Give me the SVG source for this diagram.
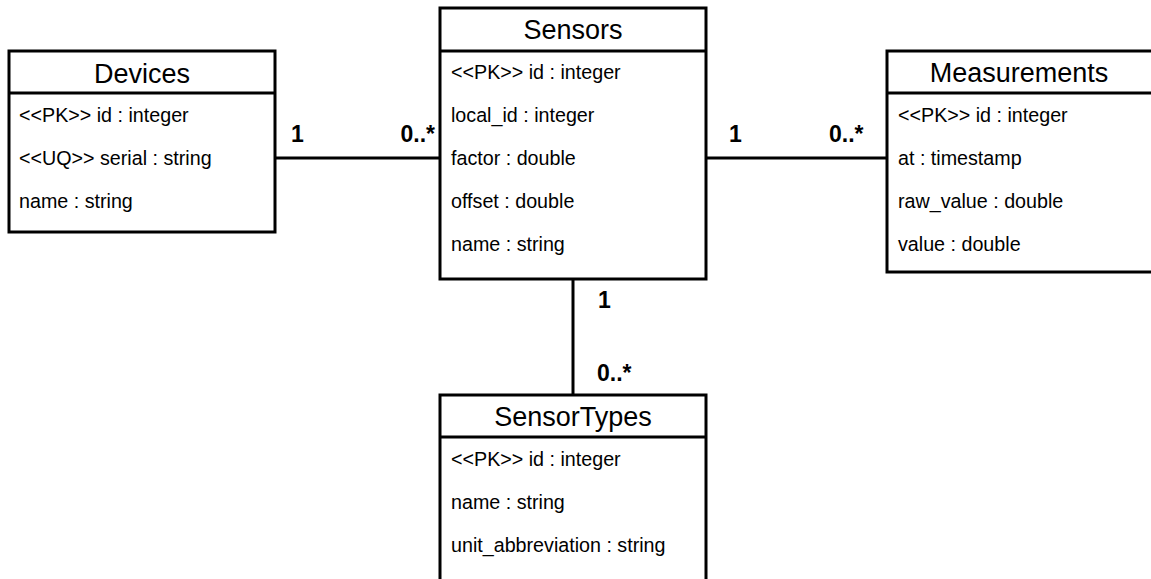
<svg xmlns="http://www.w3.org/2000/svg" width="1151" height="579" viewBox="0 0 1151 579">
<style>
.box{fill:#fff;stroke:#000;stroke-width:3}
.sep{stroke:#000;stroke-width:3}
.title{font-family:"Liberation Sans",Arial,sans-serif;font-size:27px;text-anchor:middle;fill:#000}
.attr{font-family:"Liberation Sans",Arial,sans-serif;font-size:19.7px;fill:#000}
.mult{font-family:"Liberation Sans",Arial,sans-serif;font-size:23px;font-weight:bold;fill:#000}
.conn{stroke:#000;stroke-width:3;fill:none}
</style>
<rect width="1151" height="579" fill="#fff"/>
<g id="connectors">
<line class="conn" x1="275" y1="158" x2="440" y2="158"/>
<line class="conn" x1="706" y1="158" x2="887" y2="158"/>
<line class="conn" x1="573" y1="279" x2="573" y2="395"/>
<text class="mult" x="291" y="142">1</text>
<text class="mult" x="435" y="142" text-anchor="end">0..*</text>
<text class="mult" x="729" y="142">1</text>
<text class="mult" x="829" y="142">0..*</text>
<text class="mult" x="598" y="308">1</text>
<text class="mult" x="597" y="381">0..*</text>
</g>
<g id="Devices">
<rect class="box" x="9" y="51" width="266" height="181"/>
<line class="sep" x1="9" y1="93" x2="275" y2="93"/>
<text class="title" x="142" y="83">Devices</text>
<text class="attr" x="19" y="122">&lt;&lt;PK&gt;&gt; id : integer</text>
<text class="attr" x="19" y="165">&lt;&lt;UQ&gt;&gt; serial : string</text>
<text class="attr" x="19" y="208">name : string</text>
</g>
<g id="Sensors">
<rect class="box" x="440" y="8" width="266" height="271"/>
<line class="sep" x1="440" y1="51" x2="706" y2="51"/>
<text class="title" x="573" y="39">Sensors</text>
<text class="attr" x="451" y="79">&lt;&lt;PK&gt;&gt; id : integer</text>
<text class="attr" x="451" y="122">local_id : integer</text>
<text class="attr" x="451" y="165">factor : double</text>
<text class="attr" x="451" y="208">offset : double</text>
<text class="attr" x="451" y="251">name : string</text>
</g>
<g id="Measurements">
<rect class="box" x="887" y="51" width="266" height="221"/>
<line class="sep" x1="887" y1="93" x2="1153" y2="93"/>
<text class="title" x="1019" y="82">Measurements</text>
<text class="attr" x="898" y="122">&lt;&lt;PK&gt;&gt; id : integer</text>
<text class="attr" x="898" y="165">at : timestamp</text>
<text class="attr" x="898" y="208">raw_value : double</text>
<text class="attr" x="898" y="251">value : double</text>
</g>
<g id="SensorTypes">
<rect class="box" x="440" y="395" width="266" height="200"/>
<line class="sep" x1="440" y1="437" x2="706" y2="437"/>
<text class="title" x="573" y="426">SensorTypes</text>
<text class="attr" x="451" y="466">&lt;&lt;PK&gt;&gt; id : integer</text>
<text class="attr" x="451" y="509">name : string</text>
<text class="attr" x="451" y="552">unit_abbreviation : string</text>
</g>
</svg>
